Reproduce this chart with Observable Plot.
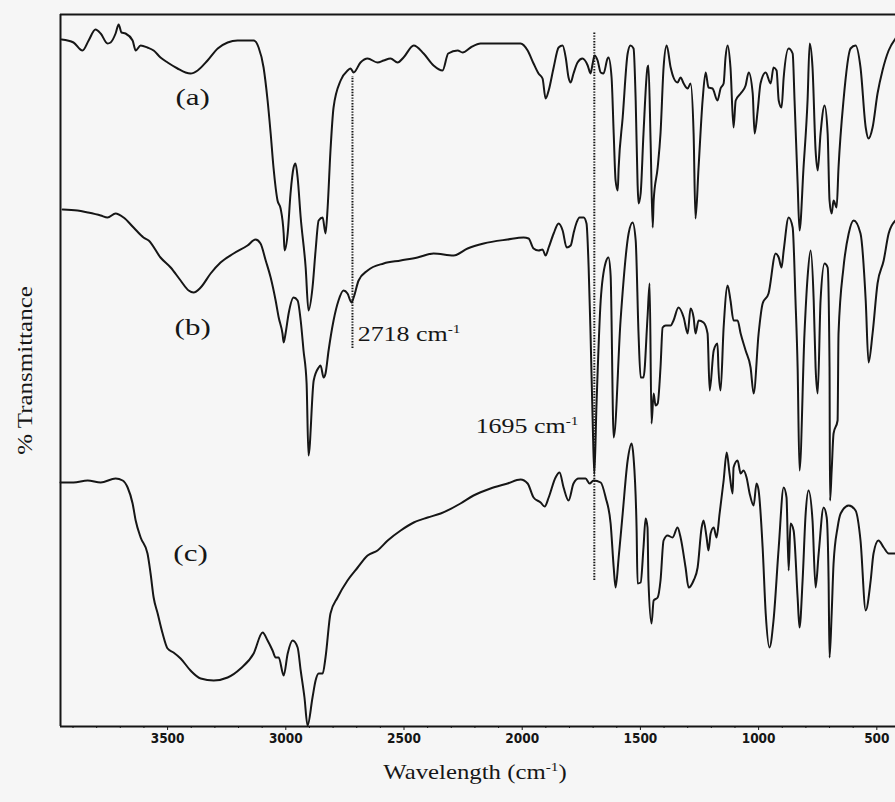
<!DOCTYPE html>
<html>
<head>
<meta charset="utf-8">
<script src="https://cdn.jsdelivr.net/npm/d3@7"></script>
<script src="https://cdn.jsdelivr.net/npm/@observablehq/plot@0.6"></script>
<style>
  html, body { margin: 0; padding: 0; background: #f6f6f6; }
  #chart svg { display: block; }
</style>
</head>
<body>
<div id="chart"></div>
<script>
// FTIR spectra, [wavenumber (cm-1), transmittance (offset, arbitrary %)]
const traceA = [[3948,68.7],[3898,68.4],[3860,67.6],[3834,68.6],[3805,69.7],[3783,69.3],[3754,68.3],[3741,68.4],[3720,69.3],[3707,70.2],[3695,69.4],[3678,69.3],[3648,68.6],[3635,67.6],[3614,68.1],[3585,67.9],[3559,67.6],[3530,66.9],[3500,66.4],[3458,65.8],[3424,65.4],[3403,65.3],[3373,65.6],[3331,66.6],[3288,67.8],[3246,68.4],[3204,68.6],[3136,68.6],[3115,67.9],[3094,65.9],[3077,62.6],[3064,59.3],[3052,55.9],[3035,52.6],[3022,51.8],[3009,49.3],[3005,47.6],[2992,49.3],[2980,53.3],[2967,55.9],[2959,56.3],[2950,54.9],[2937,50.9],[2916,45.9],[2904,41.6],[2887,43.9],[2874,47.6],[2861,50.6],[2844,50.9],[2832,49.3],[2823,51.9],[2811,57.6],[2798,61.9],[2768,64.6],[2739,65.6],[2726,65.8],[2713,65.4],[2684,66.4],[2654,66.8],[2612,66.4],[2586,66.6],[2557,66.8],[2527,66.4],[2502,66.9],[2459,68.1],[2417,67.3],[2375,66.1],[2337,65.6],[2313,67.3],[2273,67.6],[2252,67.4],[2218,67.9],[2176,68.3],[2134,68.3],[2062,68.3],[2007,68.3],[1977,67.6],[1952,66.3],[1931,65.3],[1914,64.8],[1901,62.8],[1888,63.6],[1867,65.9],[1846,67.9],[1829,68.1],[1816,66.9],[1804,64.9],[1795,64.4],[1783,65.3],[1766,66.4],[1745,66.8],[1723,66.1],[1711,65.3],[1702,66.3],[1694,67.1],[1681,66.6],[1668,65.4],[1656,65.3],[1639,66.8],[1635,66.9],[1622,64.9],[1613,59.3],[1605,54.6],[1596,53.6],[1592,55.9],[1575,60.9],[1554,67.3],[1542,68.1],[1529,67.8],[1520,62.6],[1512,54.3],[1508,52.3],[1499,53.3],[1487,59.3],[1470,65.9],[1466,66.1],[1457,58.6],[1448,49.9],[1444,52.6],[1427,55.9],[1415,59.3],[1402,65.9],[1389,68.1],[1372,65.9],[1360,64.9],[1343,64.4],[1330,64.9],[1317,64.3],[1300,63.8],[1288,64.3],[1275,59.3],[1267,50.8],[1254,55.9],[1237,62.6],[1224,65.4],[1212,63.9],[1195,63.8],[1174,62.6],[1161,63.8],[1148,64.3],[1140,66.9],[1131,68.1],[1119,65.9],[1106,59.9],[1097,62.6],[1076,63.3],[1055,64.1],[1042,65.4],[1025,63.3],[1017,59.3],[1004,61.6],[992,64.3],[970,65.4],[949,64.3],[937,65.9],[924,65.6],[915,62.6],[903,61.9],[894,64.9],[873,67.8],[856,67.3],[848,62.6],[835,54.3],[827,49.6],[810,55.9],[793,62.6],[784,68.3],[772,65.9],[759,57.6],[750,55.6],[738,59.3],[721,62.1],[708,59.3],[700,52.6],[691,51.3],[683,52.6],[670,51.9],[662,55.9],[641,62.6],[611,67.8],[590,68.1],[569,65.9],[547,59.9],[535,58.8],[518,59.9],[497,63.3],[476,65.6],[450,67.6],[421,68.8]];

const traceB = [[3944,51.7],[3881,51.6],[3838,51.4],[3783,51.1],[3754,50.9],[3720,51.3],[3686,50.9],[3644,49.9],[3602,48.9],[3580,48.6],[3530,46.9],[3487,45.9],[3445,44.6],[3411,43.6],[3390,43.4],[3360,43.9],[3318,45.3],[3276,46.4],[3221,47.3],[3162,48.1],[3128,48.7],[3107,48.3],[3085,46.6],[3064,44.9],[3043,42.6],[3030,40.9],[3014,39.3],[3009,38.4],[3001,39.3],[2988,41.3],[2967,42.9],[2950,42.6],[2937,40.6],[2925,37.6],[2912,34.3],[2904,27.1],[2882,34.6],[2861,35.9],[2853,36.1],[2840,34.9],[2832,35.3],[2819,37.6],[2798,40.6],[2777,42.6],[2756,43.6],[2739,43.3],[2722,42.4],[2713,42.9],[2692,44.6],[2654,45.6],[2586,46.3],[2514,46.6],[2443,46.9],[2375,47.3],[2290,47.1],[2231,47.8],[2163,48.3],[2062,48.7],[1994,48.9],[1973,48.8],[1952,47.8],[1931,47.6],[1914,47.7],[1901,47.1],[1888,47.9],[1867,49.3],[1846,50.3],[1829,49.6],[1812,47.9],[1795,48.1],[1783,49.3],[1770,50.4],[1757,50.9],[1740,50.9],[1728,50.3],[1719,45.9],[1711,39.3],[1702,30.6],[1695,25.2],[1686,32.0],[1668,42.6],[1647,46.4],[1635,46.9],[1626,45.1],[1613,28.9],[1584,40.6],[1550,49.3],[1533,50.4],[1520,48.6],[1508,39.3],[1499,34.9],[1487,34.9],[1470,40.9],[1461,44.3],[1453,30.3],[1444,33.3],[1436,32.1],[1427,32.3],[1415,35.9],[1406,39.9],[1393,40.1],[1372,40.1],[1360,40.6],[1339,41.9],[1317,40.9],[1300,39.3],[1288,41.8],[1275,40.9],[1267,39.3],[1254,40.6],[1233,40.4],[1216,39.3],[1207,33.6],[1190,37.6],[1174,38.3],[1170,35.9],[1161,33.6],[1148,39.9],[1131,44.1],[1119,42.6],[1106,40.6],[1089,40.6],[1076,39.3],[1055,37.6],[1034,35.9],[1021,33.3],[1000,39.3],[983,42.3],[958,43.3],[928,47.3],[915,46.9],[903,45.9],[894,47.6],[873,50.9],[856,49.9],[844,42.6],[835,35.9],[827,25.6],[806,39.3],[793,44.9],[780,47.6],[767,42.6],[759,35.9],[750,33.3],[738,42.6],[721,46.3],[708,45.9],[700,35.9],[698,22.6],[691,25.6],[683,29.3],[666,30.6],[662,39.3],[641,45.9],[619,49.3],[598,50.6],[569,49.3],[547,42.6],[535,36.4],[518,39.3],[497,44.3],[471,46.6],[450,49.3],[421,50.6]];

const traceC = [[3953,24.4],[3898,24.4],[3838,24.6],[3783,24.4],[3720,24.8],[3690,24.6],[3669,23.9],[3648,22.3],[3635,20.6],[3614,18.9],[3585,17.3],[3572,15.3],[3559,12.9],[3542,11.3],[3521,9.3],[3500,7.8],[3475,7.4],[3445,6.8],[3403,5.6],[3360,4.8],[3305,4.6],[3246,4.9],[3191,5.8],[3136,7.3],[3098,9.4],[3077,8.6],[3056,7.6],[3043,6.9],[3030,6.9],[3009,5.1],[2992,7.3],[2971,8.6],[2950,7.9],[2937,5.6],[2921,2.9],[2908,0.1],[2887,2.9],[2874,4.6],[2861,5.3],[2844,5.3],[2832,6.9],[2811,11.3],[2781,12.9],[2739,14.6],[2696,15.9],[2654,17.1],[2612,17.6],[2569,18.6],[2514,19.6],[2459,20.4],[2400,20.9],[2345,21.3],[2261,22.3],[2206,23.1],[2134,23.8],[2062,24.3],[2007,24.7],[1977,24.3],[1952,22.9],[1922,22.4],[1905,22.0],[1888,22.9],[1859,24.9],[1842,25.4],[1825,23.9],[1804,22.6],[1783,24.3],[1761,24.8],[1732,24.8],[1715,24.3],[1698,24.6],[1668,24.4],[1647,22.9],[1626,20.3],[1613,15.9],[1605,13.9],[1592,16.9],[1575,21.3],[1554,26.6],[1537,28.3],[1529,26.9],[1516,19.6],[1512,14.3],[1499,14.4],[1487,17.9],[1478,20.8],[1470,19.9],[1466,14.6],[1453,10.3],[1444,12.6],[1427,12.9],[1415,14.6],[1402,18.6],[1385,19.1],[1364,18.9],[1343,19.9],[1330,18.9],[1309,15.9],[1296,13.9],[1275,14.6],[1258,15.9],[1241,19.9],[1233,20.6],[1220,18.9],[1212,17.6],[1203,19.3],[1190,19.9],[1178,18.9],[1165,21.3],[1148,24.6],[1135,27.4],[1123,25.3],[1110,23.3],[1106,25.9],[1089,26.6],[1076,25.3],[1064,25.6],[1051,24.9],[1038,23.3],[1021,22.1],[1009,24.3],[1000,23.6],[983,17.9],[970,11.3],[954,7.9],[937,10.6],[915,17.9],[894,23.9],[882,22.9],[873,15.6],[865,20.3],[852,19.6],[835,12.9],[827,9.9],[814,14.6],[801,21.3],[789,23.6],[772,20.6],[759,13.9],[746,17.3],[725,21.9],[712,20.9],[704,14.6],[700,6.9],[691,11.3],[683,16.3],[666,19.9],[653,21.3],[619,22.1],[590,21.6],[569,18.6],[547,11.6],[526,14.6],[514,17.3],[493,18.6],[471,17.9],[450,17.3],[421,17.3]];

// Sample labels (a), (b), (c) and where they sit
const sampleNames = ["(a)", "(b)", "(c)"];
const sampleLabelCm = [3394, 3394, 3403];
const sampleLabelT = [62.9, 39.9, 17.3];

// Marked bands: dotted guide and its annotation
const bandCm = [2718, 1695];
const bandLow = [37.8, 14.6];
const bandHigh = [65.0, 69.4];
const bandText = ["2718 cm-1", "1695 cm-1"];
const bandTextCm = [2696, 2197];
const bandTextT = [39.3, 30.1];

// Axes
const xTicks = [3500, 3000, 2500, 2000, 1500, 1000, 500];
const xMinorTicks = d3.range(500, 3901, 100).filter(v => v % 500 !== 0);
const xDomain = [3953, 421];
const yDomain = [0, 71.2];
const yTitle = "% Transmittance";
const xTitle = "Wavelength (cm-1)";

const ink = "#161616";
const serif = "'Liberation Serif', 'Times New Roman', serif";
const narrow = "'Liberation Sans Narrow', 'Arial Narrow', 'DejaVu Sans Condensed', sans-serif";

const rows = (trace, name) => trace.map(([cm, t]) => ({cm, t, name}));
const spectra = [
  ...rows(traceA, "a"),
  ...rows(traceB, "b"),
  ...rows(traceC, "c")
];

const chart = Plot.plot({
  width: 895,
  height: 802,
  marginLeft: 60,
  marginRight: 0,
  marginTop: 14,
  marginBottom: 76,
  style: {background: "#f6f6f6", color: ink, overflow: "visible"},
  x: {domain: xDomain, label: null},
  y: {domain: yDomain, axis: null},
  marks: [
    // frame: top, left and bottom
    Plot.ruleY([yDomain[1]], {stroke: ink, strokeWidth: 2}),
    Plot.ruleX([xDomain[0]], {stroke: ink, strokeWidth: 2}),
    Plot.axisX({ticks: xMinorTicks, tickSize: 2, text: null, label: null, stroke: ink}),
    Plot.axisX({
      ticks: xTicks, tickSize: 4, tickPadding: 3, tickFormat: d => String(d),
      fontSize: 13.5, fontWeight: "bold", fontFamily: narrow, label: null, stroke: ink, fill: ink
    }),
    Plot.ruleY([yDomain[0]], {stroke: ink, strokeWidth: 2}),

    // spectra
    Plot.line(spectra, {
      x: "cm", y: "t", z: "name", curve: "monotone-x",
      stroke: ink, strokeWidth: 2, strokeLinejoin: "round"
    }),

    // dotted band guides
    Plot.ruleX(bandCm, {
      x: d => d, y1: (d, i) => bandLow[i], y2: (d, i) => bandHigh[i],
      stroke: ink, strokeWidth: 2, strokeDasharray: "1.4,1.4"
    }),

    // band annotations
    Plot.text(bandText, {
      x: (d, i) => bandTextCm[i], y: (d, i) => bandTextT[i], text: d => d,
      textAnchor: "start", fontSize: 22, fontFamily: serif, fill: ink
    }),

    // sample labels
    Plot.text(sampleNames, {
      x: (d, i) => sampleLabelCm[i], y: (d, i) => sampleLabelT[i], text: d => d,
      fontSize: 23, fontFamily: serif, fill: ink
    }),

    // axis titles
    Plot.text([yTitle], {
      text: d => d, frameAnchor: "left", dx: -35, rotate: -90, textAnchor: "middle",
      fontSize: 21, fontFamily: serif, fill: ink
    }),
    Plot.text([xTitle], {
      text: d => d, frameAnchor: "bottom", dx: -3, dy: 52,
      fontSize: 21, fontFamily: serif, fill: ink
    })
  ]
});

// The serif lettering is set wide: stretch each label along its baseline
const stretch = new Map([
  ...sampleNames.map(s => [s, 1.35]),
  ...bandText.map(s => [s, 1.18]),
  [yTitle, 1.19],
  [xTitle, 1.18]
]);
d3.select(chart).selectAll("text").each(function () {
  const k = stretch.get(this.textContent);
  if (!k) return;
  const t = this.getAttribute("transform") || "";
  const x = this.getAttribute("x"), y = this.getAttribute("y");
  if (x != null || y != null) {
    const X = +x || 0, Y = +y || 0;
    this.setAttribute("transform", `${t} translate(${X},${Y}) scale(${k},1) translate(${-X},${-Y})`);
  } else {
    this.setAttribute("transform", `${t} scale(${k},1)`);
  }
});

// Typeset "-1" in the cm-1 units as a superscript
d3.select(chart).selectAll("text").each(function () {
  const s = this.textContent;
  const k = s.indexOf("-1");
  if (k < 0 || !s.includes("cm")) return;
  const el = d3.select(this);
  el.text(null);
  el.append("tspan").text(s.slice(0, k));
  el.append("tspan").attr("dy", -8).attr("font-size", 13).text("-1");
  const rest = s.slice(k + 2);
  if (rest) el.append("tspan").attr("dy", 8).text(rest);
});

document.getElementById("chart").append(chart);
</script>
</body>
</html>
